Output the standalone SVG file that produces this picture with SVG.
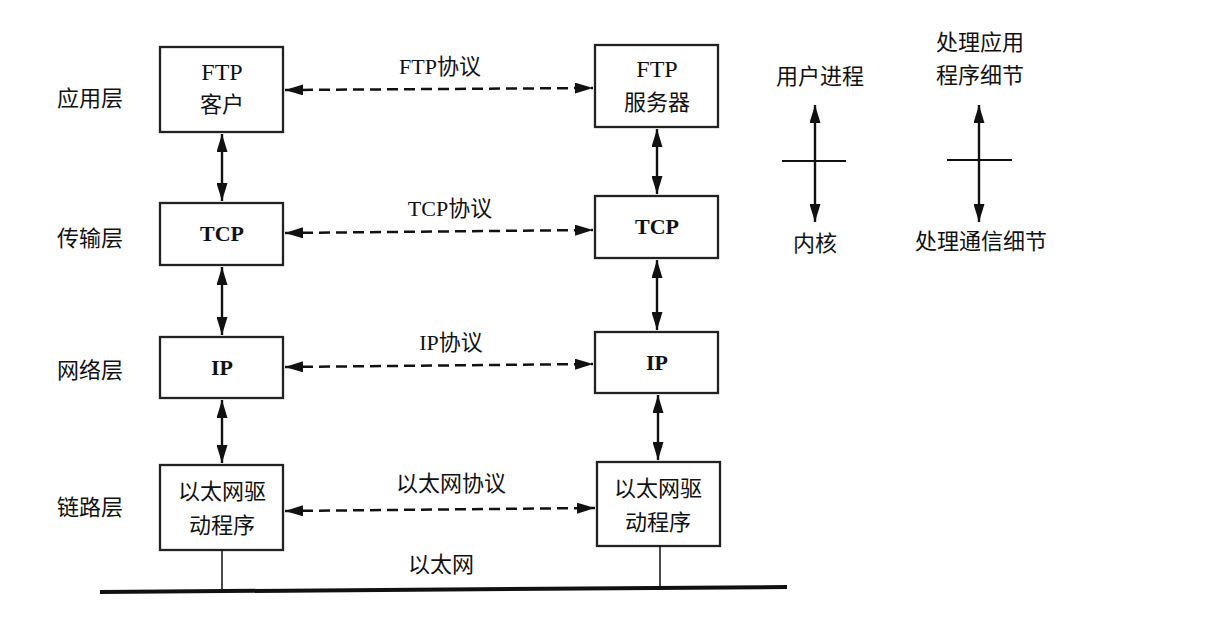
<svg xmlns="http://www.w3.org/2000/svg" width="1215" height="631" viewBox="0 0 1215 631">
<style>
text{font-family:"Liberation Serif","Noto Sans CJK SC",serif;font-size:22px;fill:#111;text-anchor:middle}
.b{font-weight:bold}
.l{font-size:24px}
.box{fill:#fff;stroke:#222;stroke-width:2.3}
.v{stroke:#111;stroke-width:2.4;fill:none;marker-start:url(#a);marker-end:url(#a)}
.d{stroke:#111;stroke-width:2.5;fill:none;stroke-dasharray:11 6;marker-start:url(#a);marker-end:url(#a)}
.t{stroke:#111;stroke-width:1.8}
</style>
<defs>
<marker id="a" viewBox="0 0 18 11" refX="18" refY="5.5" markerWidth="18" markerHeight="11" markerUnits="userSpaceOnUse" orient="auto-start-reverse">
<path d="M0,0 L18,5.5 L0,11 z" fill="#111"/>
</marker>
</defs>
<rect width="1215" height="631" fill="#fff"/>
<g id="layers">
<text x="90" y="106">应用层</text>
<text x="90" y="246">传输层</text>
<text x="90" y="378">网络层</text>
<text x="90" y="515">链路层</text>
</g>
<g id="ftp-client"><rect class="box" x="160" y="47" width="123" height="85"/><text class="l" x="222" y="80">FTP</text><text x="222" y="112">客户</text></g>
<g id="tcp-left"><rect class="box" x="160" y="203" width="123" height="62"/><text class="b" x="222" y="241">TCP</text></g>
<g id="ip-left"><rect class="box" x="160" y="337" width="123" height="61"/><text class="b" x="222" y="375">IP</text></g>
<g id="eth-left"><rect class="box" x="160" y="465" width="123" height="85"/><text x="222" y="499">以太网驱</text><text x="222" y="533">动程序</text></g>
<g id="ftp-server"><rect class="box" x="595" y="45" width="123" height="82"/><text class="l" x="657" y="77">FTP</text><text x="657" y="110">服务器</text></g>
<g id="tcp-right"><rect class="box" x="595" y="196" width="123" height="62"/><text class="b" x="657" y="234">TCP</text></g>
<g id="ip-right"><rect class="box" x="595" y="332" width="123" height="61"/><text class="b" x="657" y="370">IP</text></g>
<g id="eth-right"><rect class="box" x="597" y="462" width="123" height="84"/><text x="658" y="496">以太网驱</text><text x="658" y="530">动程序</text></g>
<g id="connectors">
<line class="v" x1="222" y1="134" x2="222" y2="201"/>
<line class="v" x1="222" y1="267" x2="222" y2="335"/>
<line class="v" x1="222" y1="400" x2="222" y2="463"/>
<line class="v" x1="657" y1="129" x2="657" y2="194"/>
<line class="v" x1="657" y1="260" x2="657" y2="330"/>
<line class="v" x1="658" y1="395" x2="658" y2="460"/>
<line class="d" x1="285" y1="90" x2="593" y2="88"/>
<line class="d" x1="285" y1="233" x2="593" y2="230"/>
<line class="d" x1="285" y1="367" x2="593" y2="364"/>
<line class="d" x1="285" y1="511" x2="595" y2="508"/>
<line x1="222" y1="550" x2="222" y2="591" stroke="#111" stroke-width="1.5"/>
<line x1="660" y1="546" x2="660" y2="589" stroke="#111" stroke-width="1.5"/>
<line x1="100" y1="592" x2="787" y2="587" stroke="#111" stroke-width="4"/>
</g>
<g id="labels">
<text x="440" y="74">FTP协议</text>
<text x="450" y="216">TCP协议</text>
<text x="451" y="350">IP协议</text>
<text x="451" y="491">以太网协议</text>
<text x="441" y="572">以太网</text>
</g>
<g id="legend-left">
<text x="820" y="84">用户进程</text>
<line class="v" x1="815" y1="105" x2="815" y2="222"/>
<line class="t" x1="782" y1="161" x2="846" y2="161"/>
<text x="815" y="251">内核</text>
</g>
<g id="legend-right">
<text x="980" y="50">处理应用</text>
<text x="980" y="83">程序细节</text>
<line class="v" x1="979" y1="105" x2="979" y2="222"/>
<line class="t" x1="947" y1="160" x2="1012" y2="160"/>
<text x="981" y="249">处理通信细节</text>
</g>
</svg>
